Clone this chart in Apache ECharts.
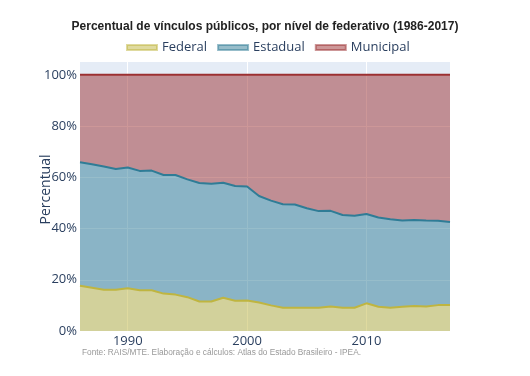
<!DOCTYPE html>
<html><head><meta charset="utf-8">
<script src="https://cdn.jsdelivr.net/npm/echarts@6/dist/echarts.min.js"></script>
<style>html,body{margin:0;padding:0;background:#fff}#c{width:530px;height:376px}</style>
</head><body><div id="c"></div>
<script>
const years = [1986,1987,1988,1989,1990,1991,1992,1993,1994,1995,1996,1997,1998,1999,2000,2001,2002,2003,2004,2005,2006,2007,2008,2009,2010,2011,2012,2013,2014,2015,2016,2017];
const federal = [17.7,16.9,16.1,16.1,16.7,15.9,15.9,14.6,14.2,13.2,11.5,11.5,13.0,11.8,11.9,11.1,10.0,9.1,9.1,9.1,9.1,9.6,9.1,9.1,10.8,9.5,9.1,9.5,9.8,9.6,10.1,10.1];
const estadual = [48.2,48.2,48.1,47.1,47.1,46.6,46.7,46.3,46.7,46.0,46.3,46.0,44.9,44.8,44.5,41.6,40.9,40.4,40.3,38.8,37.7,37.3,36.2,35.9,34.9,34.8,34.5,33.6,33.5,33.5,32.9,32.4];
const municipal = [34.1,34.9,35.8,36.8,36.2,37.5,37.4,39.1,39.1,40.8,42.2,42.5,42.1,43.4,43.6,47.3,49.1,50.5,50.6,52.1,53.2,53.1,54.7,55.0,54.3,55.7,56.4,56.9,56.7,56.9,57.0,57.5];
const xTicks = [1990,2000,2010];
const yTicks = [0,20,40,60,80,100];
const seriesNames = ['Federal','Estadual','Municipal'];

const lineColors = ['#BFB540','#2F7C96','#9B3032'];
const font = '"Open Sans", sans-serif';
const dataSets = [federal, estadual, municipal];
const showYear = (idx) => xTicks.indexOf(years[idx]) >= 0;

const chart = echarts.init(document.getElementById('c'), null, {renderer:'canvas'});
chart.setOption({
  animation:false,
  title:{
    text:'Percentual de vínculos públicos, por nível de federativo (1986-2017)',
    left:'center', top:16,
    textStyle:{fontFamily:'"Liberation Sans", Arial, sans-serif', fontWeight:'bold', fontSize:12, color:'#222'}
  },
  legend:{
    data:seriesNames, left:121, top:36, itemWidth:30, itemHeight:5, itemGap:10,
    icon:'rect',
    textStyle:{fontFamily:font, fontSize:13, color:'#2a3f5f'}
  },
  graphic:[{
    type:'text', left:82, top:349,
    style:{text:'Fonte: RAIS/MTE. Elaboração e cálculos: Atlas do Estado Brasileiro - IPEA.', fill:'#999', font:'8.3px "Liberation Sans", Arial, sans-serif'}
  }],
  grid:{left:80, right:80, top:62, bottom:45, show:true, backgroundColor:'#E5ECF6', borderWidth:0},
  xAxis:{
    type:'category', data:years.map(String), boundaryGap:false,
    axisLine:{show:false}, axisTick:{show:false},
    axisLabel:{interval:(i)=>showYear(i), margin:4, fontFamily:font, fontSize:13, color:'#2a3f5f'},
    splitLine:{show:true, interval:(i)=>showYear(i), lineStyle:{color:'#fff', width:1}}
  },
  yAxis:{
    type:'value', min:0, max:105,
    name:'Percentual', nameLocation:'middle', nameGap:27, nameMoveOverlap:false,
    nameTextStyle:{fontFamily:font, fontSize:14, color:'#2a3f5f', padding:[0,0,0,14]},
    axisLine:{show:false}, axisTick:{show:false, customValues:yTicks},
    axisLabel:{customValues:yTicks, margin:3, fontFamily:font, fontSize:13, color:'#2a3f5f', formatter:v=>v+'%'},
    splitLine:{show:true, lineStyle:{color:'#fff', width:1}}
  },
  series: seriesNames.map((n,k)=>({
    name:n, type:'line', stack:'total', symbol:'none',
    data: dataSets[k],
    lineStyle:{color:lineColors[k], width:2},
    itemStyle:{color:lineColors[k], opacity:0.5, borderColor:lineColors[k], borderWidth:1},
    areaStyle:{color:lineColors[k], opacity:0.5}
  }))
});
</script></body></html>
